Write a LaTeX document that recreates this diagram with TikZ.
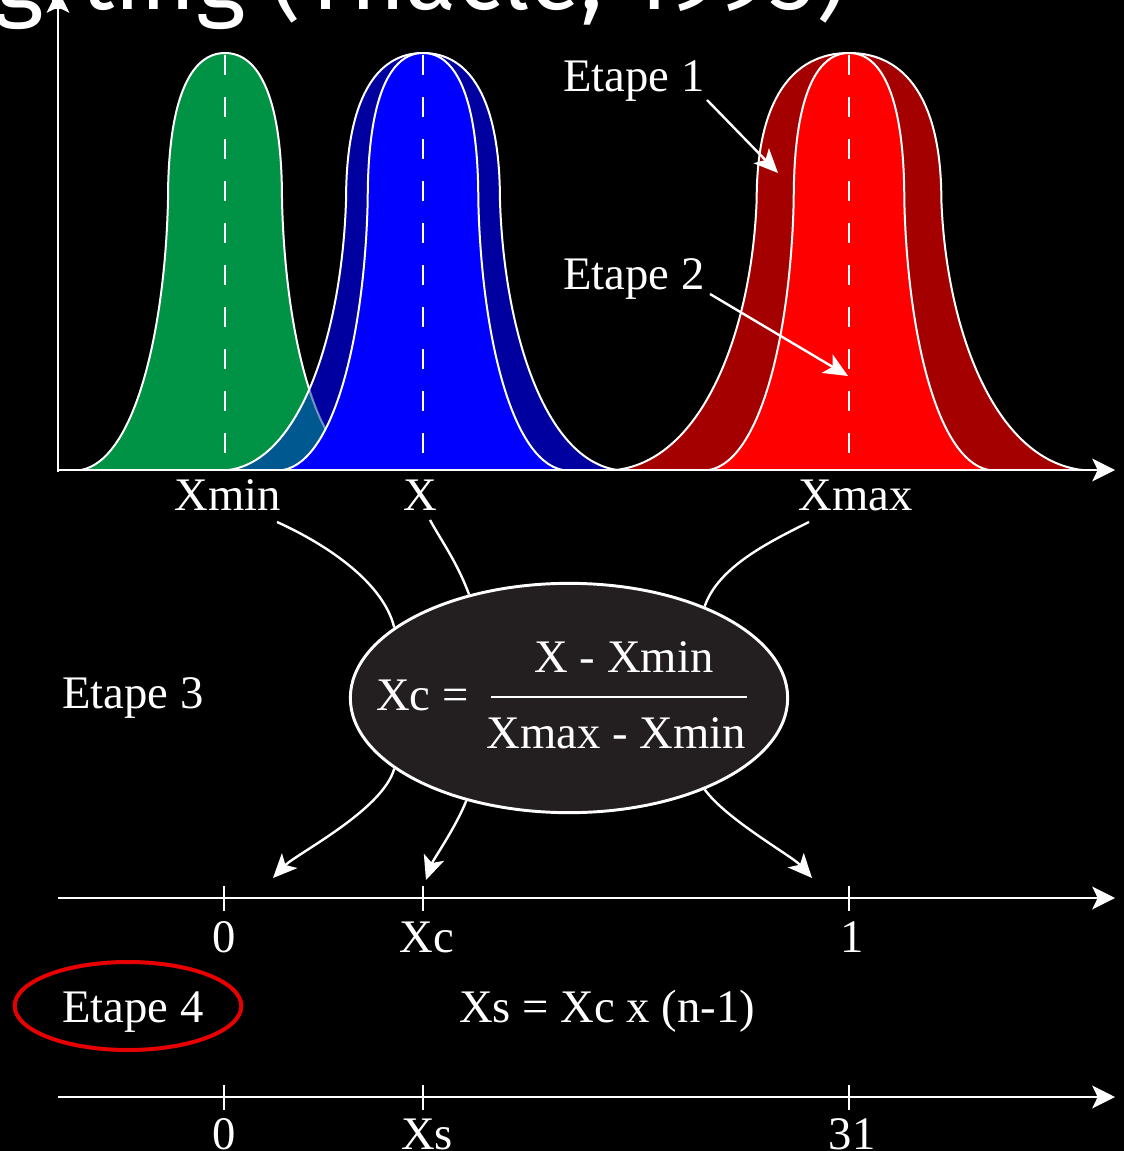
\documentclass[tikz,border=0pt]{standalone}
\usepackage{fontspec}
\setmainfont{Liberation Serif}
\newfontfamily\titlefont{Fira Sans}
\usetikzlibrary{arrows.meta,shapes.geometric}
\definecolor{bggreen}{RGB}{0,146,69}
\definecolor{dkblue}{RGB}{0,0,160}
\definecolor{brblue}{RGB}{0,0,255}
\definecolor{mixteal}{RGB}{0,88,145}
\definecolor{dkred}{RGB}{165,0,0}
\definecolor{brred}{RGB}{255,0,0}
\definecolor{ellfill}{RGB}{35,31,32}
\definecolor{ringred}{RGB}{230,0,0}
\newcommand{\bellpath}[2]{({#1-144*#2},470) .. controls ({#1-90*#2},460) and ({#1-60*#2},330) .. ({#1-57*#2},200) .. controls ({#1-57*#2},100) and ({#1-35*#2},53) .. (#1,53) .. controls ({#1+35*#2},53) and ({#1+57*#2},100) .. ({#1+57*#2},200) .. controls ({#1+60*#2},330) and ({#1+90*#2},460) .. ({#1+144*#2},470)}
\tikzset{
  lbl/.style={text=white, font=\fontsize{35}{40}\selectfont, inner sep=0pt},
  bellline/.style={draw=white, line width=1.5pt},
  axisline/.style={white, line width=2.2pt, -{Stealth[length=17pt,width=17pt,inset=4pt]}},
  tickline/.style={white, line width=1.5pt},
  conn/.style={white, line width=1.8pt},
  connarrow/.style={conn, -{Stealth[length=18pt,width=16pt,inset=4.5pt]}},
  centreline/.style={white, line width=1.5pt, dash pattern=on 15pt off 16.5pt},
}
\begin{document}
\begin{tikzpicture}[x=0.75pt,y=-0.75pt]
\useasboundingbox (0,0) rectangle (1124,1151);
\fill[black] (0,0) rectangle (1124,1151);

% title (cut at top)
\node[anchor=base west, text=white, inner sep=0pt, font=\titlefont\fontsize{71}{71}\selectfont] (title) at (-6,10) {grting (Thacle, 1995)};

% green
\fill[bggreen] \bellpath{225}{1} -- cycle;
\draw[bellline] \bellpath{225}{1};
% blue outer
\fill[dkblue] \bellpath{423}{1.35} -- cycle;
\begin{scope}
  \clip \bellpath{225}{1} -- cycle;
  \fill[mixteal] \bellpath{423}{1.35} -- cycle;
\end{scope}
\begin{scope}
  \clip \bellpath{423}{1.35} -- cycle;
  \draw[white, opacity=0.45, line width=1.5pt] \bellpath{225}{1};
\end{scope}
\draw[bellline] \bellpath{423}{1.35};
\fill[brblue] \bellpath{423}{0.97} -- cycle;
\draw[bellline] \bellpath{423}{0.97};
% red
\fill[dkred] \bellpath{849}{1.62} -- cycle;
\draw[bellline] \bellpath{849}{1.62};
\fill[brred] \bellpath{849}{0.97} -- cycle;
\draw[bellline] \bellpath{849}{0.97};

% centre lines
\draw[centreline] (225,55) -- (225,468);
\draw[centreline] (423,55) -- (423,468);
\draw[centreline] (849,55) -- (849,468);

% axes
\coordinate (O) at (58,470);
\coordinate (ytop) at (58,-10);
\coordinate (xend) at (1115,470);
\draw[axisline] (58,471.5) -- (ytop);
\draw[axisline] (56.5,470) -- (xend);

% labels under axis
\node[lbl, anchor=base] (xmin) at (228,510) {Xmin};
\node[lbl, anchor=base] (xlab) at (420,510) {X};
\node[lbl, anchor=base] (xmax) at (856,510) {Xmax};

% Etape 1 / 2
\node[lbl, anchor=base west] (et1) at (563,92) {Etape 1};
\node[lbl, anchor=base west] (et2) at (563,290) {Etape 2};
\coordinate (a1s) at (707,100);
\coordinate (a1e) at (778,173);
\coordinate (a2s) at (710,294);
\coordinate (a2e) at (848,376);
\draw[connarrow] (a1s) -- (a1e);
\draw[connarrow] (a2s) -- (a2e);

% formula ellipse
\node[ellipse, draw=white, fill=ellfill, line width=2.2pt, minimum width=328pt, minimum height=172pt, inner sep=0pt] (F) at (569,698) {};
\node[lbl, anchor=base west] (xceq) at (376,710) {Xc =};
\node[lbl, anchor=base] (num) at (624,672) {X - Xmin};
\node[lbl, anchor=base] (den) at (616,748) {Xmax - Xmin};
\draw[white, line width=1.6pt] (491,697) -- (747,697);

\node[lbl, anchor=base west] (et3) at (62,708) {Etape 3};

% connectors into ellipse
\coordinate (c1s) at (277,522);
\coordinate (c2s) at (430,520);
\coordinate (c3s) at (809,522);
\draw[conn] (c1s) .. controls (317,540) and (382,578) .. (F.158);
\draw[conn] (c2s) .. controls (442,542) and (457,562) .. (F.134);
\draw[conn] (c3s) .. controls (769,542) and (718,567) .. (F.34);

% connectors out of ellipse
\coordinate (t1) at (273,878);
\coordinate (t2) at (426,880);
\coordinate (t3) at (812,878);
\draw[connarrow] (F.202) .. controls (383,810) and (296,854) .. (t1);
\draw[connarrow] (F.225) .. controls (456,827) and (433,860) .. (t2);
\draw[connarrow] (F.326) .. controls (727,820) and (792,856) .. (t3);

% first scale axis
\coordinate (b1s) at (58,898);
\coordinate (b1e) at (1115,898);
\draw[axisline] (b1s) -- (b1e);
\draw[tickline] (224,886) -- (224,911);
\draw[tickline] (423,886) -- (423,911);
\draw[tickline] (849,886) -- (849,911);
\node[lbl, anchor=base] (z1) at (224,952) {0};
\node[lbl, anchor=base] (xcl) at (427,952) {Xc};
\node[lbl, anchor=base] (one) at (852,952) {1};

% Etape 4
\node[lbl, anchor=base west] (et4) at (62,1022) {Etape 4};
\node[ellipse, draw=ringred, line width=3pt, minimum width=170pt, minimum height=66pt, inner sep=0pt] (ring) at (128,1006) {};
\node[lbl, anchor=base west] (xsf) at (459,1022) {Xs = Xc x (n-1)};

% second scale axis
\coordinate (b2s) at (58,1097);
\coordinate (b2e) at (1115,1097);
\draw[axisline] (b2s) -- (b2e);
\draw[tickline] (224,1085) -- (224,1110);
\draw[tickline] (423,1085) -- (423,1110);
\draw[tickline] (849,1085) -- (849,1110);
\node[lbl, anchor=base] (z2) at (224,1149) {0};
\node[lbl, anchor=base] (xsl) at (427,1149) {Xs};
\node[lbl, anchor=base] (n31) at (852,1149) {31};
\end{tikzpicture}
\end{document}
